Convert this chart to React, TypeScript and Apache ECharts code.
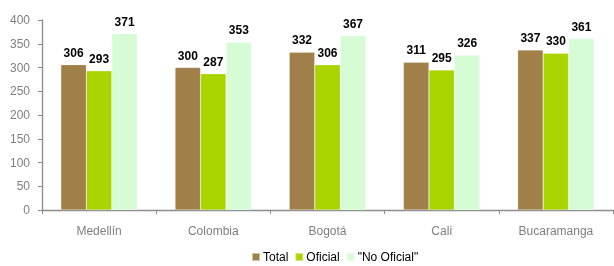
import React, { useEffect, useRef } from "react";
import * as echarts from "echarts";

const categories = ["Medellín", "Colombia", "Bogotá", "Cali", "Bucaramanga"];
const total = [306, 300, 332, 311, 337];
const oficial = [293, 287, 306, 295, 330];
const noOficial = [371, 353, 367, 326, 361];
const seriesNames = ["Total", "Oficial", "\"No Oficial\""];

export default function App() {
  const ref = useRef<HTMLDivElement>(null);
  useEffect(() => {
    const chart = echarts.init(ref.current!, null, { renderer: "svg" });
    const label = {
      show: true,
      position: "top",
      color: "#000",
      fontWeight: "bold",
      fontSize: 12,
      fontFamily: "Liberation Sans, Arial, sans-serif",
      distance: 6,
    };
    const mk = (name: string, data: number[], color: string) => ({
      name,
      type: "bar",
      data,
      barGap: "0%",
      barCategoryGap: "33%",
      itemStyle: { color, borderColor: "rgba(255,255,255,0.5)", borderWidth: 0.5 },
      label,
    });
    chart.setOption({
      animation: false,
      textStyle: { fontFamily: "Liberation Sans, Arial, sans-serif" },
      grid: { left: 42, right: 1, top: 20, bottom: 56 },
      legend: {
        top: 251,
        left: 251,
        padding: 0,
        itemWidth: 8,
        itemHeight: 8,
        itemGap: 6,
        icon: "rect",
        textStyle: { color: "#000", fontSize: 12, padding: [0, 0, 0, -2] },
        data: seriesNames,
      },
      xAxis: {
        type: "category",
        data: categories,
        axisLine: { lineStyle: { color: "#8c8c8c", width: 1.3 } },
        axisTick: { show: true, length: 4, lineStyle: { color: "#8c8c8c" } },
        axisLabel: { color: "#7f7f7f", fontSize: 12, margin: 15 },
      },
      yAxis: {
        type: "value",
        min: 0,
        max: 400,
        interval: 50,
        axisLine: { show: true, lineStyle: { color: "#8c8c8c", width: 1.3 } },
        axisTick: { show: true, length: 4, lineStyle: { color: "#8c8c8c" } },
        splitLine: { show: false },
        axisLabel: { color: "#7f7f7f", fontSize: 12, margin: 12 },
      },
      series: [
        mk(seriesNames[0], total, "#a07f48"),
        mk(seriesNames[1], oficial, "#aad400"),
        mk(seriesNames[2], noOficial, "#d6fcd6"),
      ],
    });
    return () => chart.dispose();
  }, []);
  return (
    <div
      ref={ref}
      style={{ position: "fixed", left: 0, top: 0, width: 614, height: 266 }}
    />
  );
}
